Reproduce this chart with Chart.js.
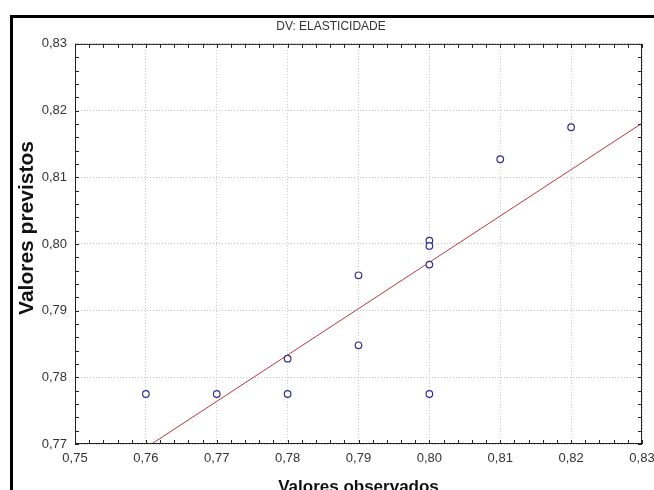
<!DOCTYPE html>
<html>
<head>
<meta charset="utf-8">
<script src="https://cdn.jsdelivr.net/npm/chart.js@4.4.1/dist/chart.umd.min.js"></script>
<style>
  html, body { margin: 0; padding: 0; background: #fff; overflow: hidden; }
  canvas { display: block; }
</style>
</head>
<body>
<canvas id="chart" width="654" height="498"></canvas>
<script>
// observed vs predicted values
const observados = [0.76, 0.77, 0.78, 0.78, 0.79, 0.79, 0.80, 0.80, 0.80, 0.80, 0.81, 0.82];
const previstos = [0.7775, 0.7775, 0.7775, 0.7828, 0.7953, 0.7848, 0.8005, 0.7997, 0.7969, 0.7775, 0.8127, 0.8175];

// fitted line ends
const retaX = [0.7608, 0.83];
const retaY = [0.77, 0.8181];

const xTicks = [0.75, 0.76, 0.77, 0.78, 0.79, 0.80, 0.81, 0.82, 0.83];
const yTicks = [0.77, 0.78, 0.79, 0.80, 0.81, 0.82, 0.83];
const minorStep = 0.002;

const fontFamily = '"Liberation Sans", Arial, sans-serif';
const fmt = (v) => Number(v).toFixed(2).replace('.', ',');

// frame, outer border, inward minor ticks and the y title
const framePlugin = {
    id: 'frame',
    afterDraw(chart) {
        const ctx = chart.ctx;
        const a = chart.chartArea;
        const xs = chart.scales.x;
        const ys = chart.scales.y;
        ctx.save();
        ctx.strokeStyle = '#222';
        ctx.lineWidth = 1;
        ctx.strokeRect(a.left + 0.5, a.top + 0.5, a.right - a.left - 1, a.bottom - a.top - 1);

        ctx.beginPath();
        for (let v = xs.min; v <= xs.max + 1e-9; v += minorStep) {
            const px = Math.round(xs.getPixelForValue(v)) + 0.5;
            ctx.moveTo(px, a.bottom);
            ctx.lineTo(px, a.bottom - 4);
            ctx.moveTo(px, a.top);
            ctx.lineTo(px, a.top + 4);
        }
        for (let v = ys.min; v <= ys.max + 1e-9; v += minorStep) {
            const py = Math.round(ys.getPixelForValue(v)) + 0.5;
            ctx.moveTo(a.left, py);
            ctx.lineTo(a.left + 4, py);
            ctx.moveTo(a.right, py);
            ctx.lineTo(a.right - 4, py);
        }
        ctx.stroke();

        ctx.strokeStyle = '#000';
        ctx.lineWidth = 3;
        ctx.strokeRect(11.5, 16.5, 1000, 1000);

        ctx.translate(27, 228);
        ctx.rotate(-Math.PI / 2);
        ctx.fillStyle = '#111';
        ctx.font = 'bold 21px ' + fontFamily;
        ctx.textAlign = 'center';
        ctx.textBaseline = 'middle';
        ctx.fillText('Valores previstos', 0, 0);
        ctx.restore();
    }
};

const chart = new Chart(document.getElementById('chart'), {
    type: 'scatter',
    data: {
        datasets: [
            {
                data: observados.map((x, i) => ({ x: x, y: previstos[i] })),
                pointRadius: 3.3,
                pointBorderWidth: 1.2,
                pointBorderColor: '#2f2f8f',
                pointBackgroundColor: '#fff',
                order: 1
            },
            {
                data: retaX.map((x, i) => ({ x: x, y: retaY[i] })),
                showLine: true,
                pointRadius: 0,
                borderColor: '#b8383f',
                borderWidth: 1,
                order: 2
            }
        ]
    },
    options: {
        responsive: false,
        animation: false,
        layout: { padding: { left: 8, right: 0, top: 0, bottom: 0 } },
        plugins: {
            legend: { display: false },
            tooltip: { enabled: false },
            title: {
                display: true,
                text: 'DV: ELASTICIDADE',
                color: '#333',
                font: { family: fontFamily, size: 12, weight: 'normal' },
                padding: { top: 19.5, bottom: 10 }
            }
        },
        scales: {
            x: {
                type: 'linear',
                min: 0.75,
                max: 0.83,
                afterBuildTicks: (s) => { s.ticks = xTicks.map(v => ({ value: v })); },
                afterFit: (s) => { s.height = 54; s.paddingRight = 12; s.paddingLeft = 0; },
                ticks: {
                    callback: fmt,
                    color: '#333',
                    padding: 7,
                    maxRotation: 0,
                    font: { family: fontFamily, size: 13 }
                },
                grid: { color: '#c4c4c4', drawTicks: false },
                border: { display: false, dash: [1, 2] },
                title: {
                    display: true,
                    text: 'Valores observados',
                    color: '#111',
                    font: { family: fontFamily, size: 17, weight: 'bold' },
                    padding: { top: 0, bottom: 0 }
                }
            },
            y: {
                type: 'linear',
                min: 0.77,
                max: 0.83,
                afterBuildTicks: (s) => { s.ticks = yTicks.map(v => ({ value: v })); },
                afterFit: (s) => { s.width = 67; },
                ticks: {
                    callback: fmt,
                    color: '#333',
                    padding: 8,
                    font: { family: fontFamily, size: 13 }
                },
                grid: { color: '#c4c4c4', drawTicks: false },
                border: { display: false, dash: [1, 2] }
            }
        }
    },
    plugins: [framePlugin]
});
</script>
</body>
</html>
